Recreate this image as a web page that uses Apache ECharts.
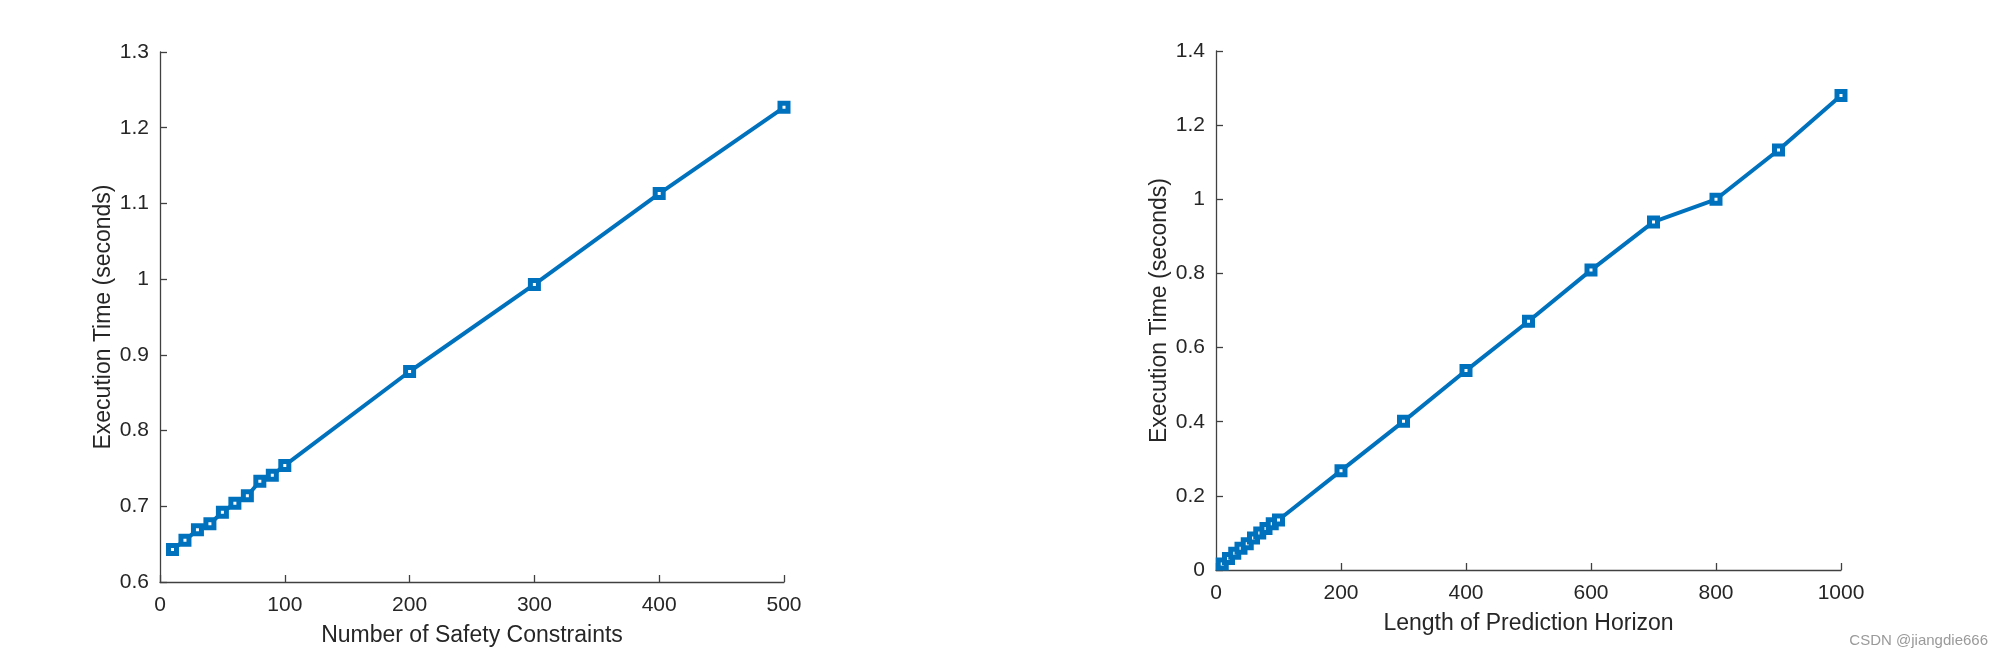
<!DOCTYPE html>
<html>
<head>
<meta charset="utf-8">
<script src="https://cdn.jsdelivr.net/npm/echarts@6/dist/echarts.min.js"></script>
<style>
html,body{margin:0;padding:0;background:#fff;}
#c{width:2004px;height:672px;}
</style>
</head>
<body>
<div id="c"></div>
<script>
// Left chart data
const constraintsX = [10,20,30,40,50,60,70,80,90,100,200,300,400,500];
const constraintsTime = [0.643,0.655,0.669,0.677,0.692,0.704,0.714,0.733,0.741,0.754,0.878,0.993,1.113,1.227];
// Right chart data
const horizonX = [10,20,30,40,50,60,70,80,90,100,200,300,400,500,600,700,800,900,1000];
const horizonTime = [0.016,0.031,0.045,0.059,0.071,0.086,0.100,0.112,0.125,0.135,0.268,0.401,0.538,0.671,0.809,0.939,1.000,1.133,1.280];

const leftXLabel = 'Number of Safety Constraints';
const rightXLabel = 'Length of Prediction Horizon';
const yLabel = 'Execution Time (seconds)';
const watermark = 'CSDN @jiangdie666';

const FONT = '"Liberation Sans", Arial, sans-serif';
const TXT = '#262626';
const AX = '#404040';
const BLUE = '#0072BD';

function xAxis(idx, max, interval, name) {
  return {
    type: 'value', gridIndex: idx, min: 0, max: max, interval: interval,
    name: name, nameLocation: 'middle', nameGap: 42,
    nameTextStyle: {color: TXT, fontSize: 23, fontFamily: FONT},
    axisLine: {show: true, lineStyle: {color: AX, width: 1.3}},
    axisTick: {show: true, inside: true, length: 7, lineStyle: {color: AX, width: 1.3}},
    axisLabel: {color: TXT, fontSize: 21, fontFamily: FONT, margin: 13,
      formatter: function (v) { return String(v); }},
    splitLine: {show: false}
  };
}
function yAxis(idx, min, max, interval) {
  return {
    type: 'value', gridIndex: idx, min: min, max: max, interval: interval,
    name: yLabel, nameLocation: 'middle', nameGap: 45, nameRotate: 90,
    nameTextStyle: {color: TXT, fontSize: 23, fontFamily: FONT},
    axisLine: {show: true, lineStyle: {color: AX, width: 1.3}},
    axisTick: {show: true, inside: true, length: 7, lineStyle: {color: AX, width: 1.3}},
    axisLabel: {color: TXT, fontSize: 21, fontFamily: FONT, margin: 11,
      formatter: function (v) { return (Math.round(v * 10) / 10).toString(); }},
    splitLine: {show: false}
  };
}
function series(idx, xs, ys) {
  return {
    type: 'line', xAxisIndex: idx, yAxisIndex: idx,
    data: xs.map((x, i) => [x, ys[i]]),
    symbol: 'rect', symbolSize: 8,
    lineStyle: {color: BLUE, width: 4},
    itemStyle: {color: '#ffffff', borderColor: BLUE, borderWidth: 5},
    animation: false, z: 3
  };
}

const chart = echarts.init(document.getElementById('c'), null, {renderer: 'canvas'});
chart.setOption({
  backgroundColor: '#ffffff',
  animation: false,
  grid: [
    {left: 160, top: 52, width: 624, height: 530},
    {left: 1216, top: 51, width: 625, height: 519}
  ],
  xAxis: [xAxis(0, 500, 100, leftXLabel), xAxis(1, 1000, 200, rightXLabel)],
  yAxis: [yAxis(0, 0.6, 1.3, 0.1), yAxis(1, 0, 1.4, 0.2)],
  series: [series(0, constraintsX, constraintsTime), series(1, horizonX, horizonTime)],
  graphic: [{
    type: 'text', right: 16, top: 633,
    style: {text: watermark, fill: '#9a9a9a', fontSize: 15, fontFamily: FONT}
  }]
});
</script>
</body>
</html>
